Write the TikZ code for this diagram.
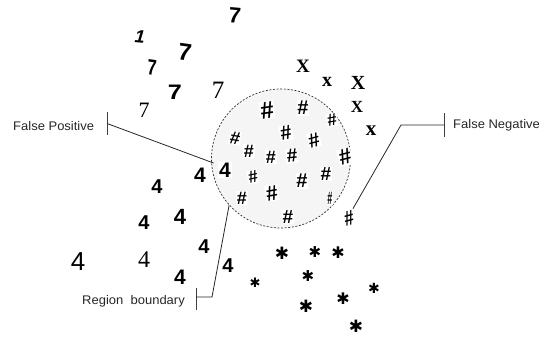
\documentclass[tikz,border=0pt]{standalone}
\usepackage{fontspec}
\setmainfont{Liberation Sans}
\newfontfamily\serifhw{Liberation Serif}
\newfontfamily\dejavu{DejaVu Sans}
\newfontfamily\labfont[FakeStretch=1.04]{Liberation Sans}
\tikzset{
  bsym/.style={inner sep=0pt, font=\bfseries\fontsize{#1}{#1}\selectfont},
  bsym/.default=22,
  ssym/.style={inner sep=0pt, font=\serifhw\fontsize{#1}{#1}\selectfont},
  xsym/.style={inner sep=0pt, font=\serifhw\bfseries\fontsize{#1}{#1}\selectfont},
  hsym/.style={inner sep=0.8pt, fill=white, font=\bfseries\fontsize{#1}{#1}\selectfont},
  hsym/.default=20,
  astsym/.style={inner sep=0pt, font=\dejavu\fontsize{#1}{#1}\selectfont},
  astsym/.default=16,
  lab/.style={inner sep=0pt, font=\labfont\fontsize{12.5}{14}\selectfont, text=black!85},
  leader/.style={draw=black!85, line width=0.8pt},
  tick/.style={draw=black!75, line width=1pt},
  region/.style={draw=black!80, dash pattern=on 2pt off 1.6pt, line width=0.7pt, fill=black!4},
}
\begin{document}
\begin{tikzpicture}[x=1pt,y=-1pt]
\useasboundingbox (0,0) rectangle (547,338);
% region
\node[region, circle, minimum size=139pt, inner sep=0pt] (reg) at (281,158.5) {};
% sevens
\node[bsym=22, rotate=-5] (s1) at (235,15) {7};
\node[inner sep=0pt, font=\bfseries\itshape\fontsize{18}{18}\selectfont, rotate=-5] (s2) at (140,37) {1};
\node[bsym=24, rotate=-8] (s3) at (185,52) {7};
\node[bsym=22, xscale=0.75, rotate=-6] (s4) at (152,68) {7};
\node[bsym=21, xscale=1.2] (s5) at (175,92) {7};
\node[ssym=25] (s6) at (218,90) {7};
\node[ssym=22] (s7) at (144,110) {7};
% crosses
\node[xsym=19] (x1) at (303,66) {X};
\node[xsym=20] (x2) at (327,82) {x};
\node[xsym=20] (x3) at (358,83) {X};
\node[xsym=17] (x4) at (357,107) {X};
\node[xsym=21] (x5) at (371,131) {x};
% hashes inside region
\foreach \px/\py/\sz/\r [count=\i] in {267/110/24/8, 303/108/20/0, 332/120/17/10, 235/138/18/-10, 286/133/20/10, 314/140/20/15, 249/151/18/0, 271/157/18/0, 292/156/19/5, 345/157/22/15, 253/177/17/12, 302/181/20/0, 326/174/19/0, 242/198/18/0, 272/193/21/10, 288/217/19/0}
  {\node[hsym=\sz, rotate=\r] (h\i) at (\px,\py) {\#};}
\node[inner sep=0.8pt, fill=white, font=\bfseries\fontsize{18}{18}\selectfont, xscale=0.5] (h17) at (330,198) {\#};
\node[hsym=21, xscale=0.8, fill=none, rotate=12] (fn) at (349,218) {\#};
% fours
\node[bsym=21, fill=white, inner sep=0.8pt] (f1) at (225,170) {4};
\node[bsym=21] (f2) at (200,175) {4};
\node[bsym=20] (f3) at (157,187) {4};
\node[bsym=22] (f4) at (180,217) {4};
\node[bsym=20] (f5) at (144,223) {4};
\node[bsym=20] (f6) at (204,247) {4};
\node[inner sep=0pt, font=\fontsize{26}{26}\selectfont] (f7) at (78,262) {4};
\node[ssym=24] (f8) at (144,260) {4};
\node[bsym=21] (f9) at (180,277) {4};
\node[bsym=20] (f10) at (228,266) {4};
% stars
\foreach \px/\py/\sz [count=\i] in {255/283/13, 282/253/17, 315/252/15, 338/253/16, 308/276/15, 374/288/14, 343/299/16, 306/306/17, 356/326/17}
  {\node[astsym=\sz] (a\i) at (\px,\py) {✱};}
% labels
\node[lab, anchor=west] (fp) at (13,126) {False Positive};
\coordinate (fpt) at (107,123.5);
\coordinate (fpa) at (107,112);
\coordinate (fpb) at (107,135);
\draw[tick] (fpa) -- (fpb);
\coordinate (fpe) at (213.5,163);
\draw[leader] (fpt) -- (fpe);

\node[lab, anchor=west] (fnl) at (453,125) {False Negative};
\coordinate (fna) at (444,113);
\coordinate (fnb) at (444,137);
\draw[tick] (fna) -- (fnb);
\coordinate (fnk) at (401,125);
\coordinate (fnt) at (444,125);
\draw[leader] (fnt) -- (fnk) -- (fn.north east);

\node[lab, anchor=west] (rbl) at (82,301) {Region\ \ boundary};
\coordinate (rba) at (196,288);
\coordinate (rbb) at (196,310);
\draw[tick] (rba) -- (rbb);
\coordinate (rbk) at (212,297);
\coordinate (rbt) at (196,297);
\draw[leader] (rbt) -- (rbk) -- (reg.222);
\end{tikzpicture}
\end{document}
